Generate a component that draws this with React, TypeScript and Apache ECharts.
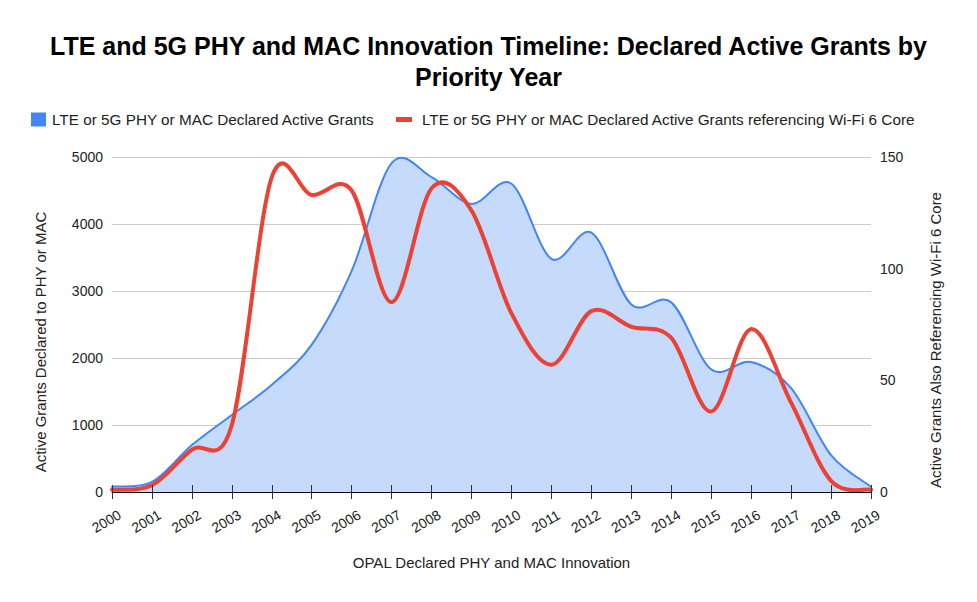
import React, { useEffect, useRef } from "react";
import * as echarts from "echarts";

const years = ["2000","2001","2002","2003","2004","2005","2006","2007","2008","2009","2010","2011","2012","2013","2014","2015","2016","2017","2018","2019"];
const activeGrants = [80, 150, 700, 1150, 1600, 2200, 3300, 4910, 4700, 4300, 4600, 3480, 3870, 2800, 2830, 1830, 1940, 1550, 550, 80];
const wifiGrants = [1, 3, 19, 30, 141, 133, 135, 85, 136, 126, 80, 57, 81, 74, 69, 36, 73, 40, 5, 1];
const leftTicks = { min: 0, max: 5000, interval: 1000 };
const rightTicks = { min: 0, max: 150, interval: 50 };

const seriesA = "LTE or 5G PHY or MAC Declared Active Grants";
const seriesB = "LTE or 5G PHY or MAC Declared Active Grants referencing Wi-Fi 6 Core";
const FONT = "'Liberation Sans', Arial, sans-serif";
const BLUE = "#4285F4";
const RED = "#EA4335";
const FILL = "#C6DAFC";

// Catmull-Rom spline through points given in pixel space (from api.coord)
function splinePath(pts: number[][]): string {
  let d = `M${pts[0][0]},${pts[0][1]}`;
  for (let i = 0; i < pts.length - 1; i++) {
    const p0 = pts[i - 1] || pts[i];
    const p1 = pts[i];
    const p2 = pts[i + 1];
    const p3 = pts[i + 2] || pts[i + 1];
    const c1x = p1[0] + (p2[0] - p0[0]) / 6;
    const c1y = p1[1] + (p2[1] - p0[1]) / 6;
    const c2x = p2[0] - (p3[0] - p1[0]) / 6;
    const c2y = p2[1] - (p3[1] - p1[1]) / 6;
    d += ` C${c1x},${c1y} ${c2x},${c2y} ${p2[0]},${p2[1]}`;
  }
  return d;
}

function makeRender(values: number[], color: string, width: number, area: boolean) {
  return (params: any, api: any) => {
    if (params.dataIndex !== 0) return null;
    const pts = values.map((v, i) => api.coord([i, v]));
    const line = splinePath(pts);
    const children: any[] = [];
    if (area) {
      const base0 = api.coord([0, 0]);
      const baseN = api.coord([values.length - 1, 0]);
      children.push({
        type: "path",
        shape: { pathData: `${line} L${baseN[0]},${baseN[1]} L${base0[0]},${base0[1]} Z` },
        style: { fill: FILL, stroke: "none" },
      });
    }
    children.push({
      type: "path",
      shape: { pathData: line },
      style: { fill: "none", stroke: color, lineWidth: width, lineJoin: "round", lineCap: "round" },
    });
    return { type: "group", children };
  };
}

export default function App() {
  const ref = useRef<HTMLDivElement>(null);
  useEffect(() => {
    if (!ref.current) return;
    const chart = echarts.init(ref.current, undefined, { renderer: "svg" });
    chart.setOption({
      animation: false,
      backgroundColor: "#ffffff",
      textStyle: { fontFamily: FONT },
      title: {
        text: "LTE and 5G PHY and MAC Innovation Timeline: Declared Active Grants by\nPriority Year",
        left: "center",
        top: 30,
        padding: 0,
        textStyle: { fontFamily: FONT, fontSize: 25, fontWeight: "bold", color: "#000000", lineHeight: 31 },
      },
      legend: [
        {
          data: [{ name: seriesA, icon: "rect", itemStyle: { color: BLUE } }],
          left: 31, top: 112, padding: 0,
          itemWidth: 15, itemHeight: 14,
          textStyle: { fontFamily: FONT, fontSize: 15.3, color: "#222222", padding: [0, 0, 0, 1] },
          selectedMode: false,
        },
        {
          data: [{ name: seriesB, icon: "rect", itemStyle: { color: RED } }],
          left: 396, top: 112, padding: 0,
          itemWidth: 16, itemHeight: 5,
          textStyle: { fontFamily: FONT, fontSize: 15.3, color: "#222222", padding: [0, 0, 0, 5] },
          selectedMode: false,
        },
      ],
      grid: { left: 112, right: 106, top: 157, height: 335 },
      xAxis: [
        {
          type: "category",
          data: years,
          boundaryGap: false,
          position: "bottom",
          name: "OPAL Declared PHY and MAC Innovation",
          nameLocation: "middle",
          nameGap: 63,
          nameTextStyle: { fontFamily: FONT, fontSize: 15, color: "#222222" },
          axisLine: { show: true, lineStyle: { color: "#000000", width: 1 } },
          axisTick: { show: true, interval: 0, length: 7, lineStyle: { color: "#333333" } },
          axisLabel: {
            interval: 0, rotate: 30, fontSize: 14, color: "#222222", margin: 26, fontFamily: FONT,
            align: "center", verticalAlign: "middle", padding: [0, 13, 0, 0],
          },
          splitLine: { show: false },
          z: 10,
        },
        {
          type: "category",
          data: years,
          boundaryGap: false,
          position: "bottom",
          axisLine: { show: false },
          axisTick: { show: true, inside: true, interval: 0, length: 7, lineStyle: { color: "#333333" } },
          axisLabel: { show: false },
          splitLine: { show: false },
          z: 10,
        },
      ],
      yAxis: [
        {
          type: "value",
          ...leftTicks,
          position: "left",
          axisLine: { show: false },
          axisTick: { show: false },
          axisLabel: { fontSize: 14, color: "#222222", margin: 9, fontFamily: FONT, formatter: (v: number) => String(v) },
          splitLine: { show: true, lineStyle: { color: "#cccccc", width: 1 } },
        },
        {
          type: "value",
          ...rightTicks,
          position: "right",
          axisLine: { show: false },
          axisTick: { show: false },
          axisLabel: { fontSize: 14, color: "#222222", margin: 9, fontFamily: FONT, formatter: (v: number) => String(v) },
          splitLine: { show: false },
        },
      ],
      graphic: [
        {
          type: "text",
          x: 40, y: 342, rotation: Math.PI / 2,
          style: { text: "Active Grants Declared to PHY or MAC", fontSize: 15, fontFamily: FONT, fill: "#222222", align: "center", verticalAlign: "middle" },
        },
        {
          type: "text",
          x: 935, y: 340, rotation: Math.PI / 2,
          style: { text: "Active Grants Also Referencing Wi-Fi 6 Core", fontSize: 15, fontFamily: FONT, fill: "#222222", align: "center", verticalAlign: "middle" },
        },
      ],
      series: [
        {
          name: seriesA,
          type: "custom",
          xAxisIndex: 0,
          yAxisIndex: 0,
          data: activeGrants.map((v, i) => [i, v]),
          encode: { x: 0, y: 1 },
          renderItem: makeRender(activeGrants, BLUE, 2, true),
          itemStyle: { color: BLUE },
          z: 2,
        },
        {
          name: seriesB,
          type: "custom",
          xAxisIndex: 0,
          yAxisIndex: 1,
          data: wifiGrants.map((v, i) => [i, v]),
          encode: { x: 0, y: 1 },
          renderItem: makeRender(wifiGrants, RED, 4, false),
          itemStyle: { color: RED },
          z: 3,
        },
      ],
    });
    return () => chart.dispose();
  }, []);
  return <div ref={ref} style={{ position: "absolute", left: 0, top: 0, width: 977, height: 602 }} />;
}
